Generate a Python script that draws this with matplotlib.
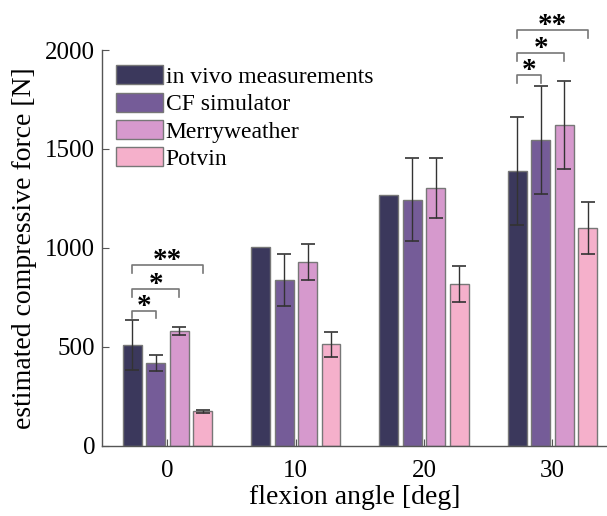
from matplotlib import pyplot as plt
import numpy as np

plt.rcParams['font.family'] = ['Liberation Serif', 'DejaVu Serif']

# flexion angles [deg]
angles = np.array([0, 10, 20, 30])
series = ["in vivo measurements", "CF simulator", "Merryweather", "Potvin"]
colors = ["#3b385c", "#755c98", "#d699cd", "#f5b0cb"]

# estimated compressive force [N]
invivo = [510, 1007, 1269, 1389]
cf_sim = [418, 840, 1244, 1545]
merry = [582, 928, 1303, 1621]
potvin = [175, 513, 818, 1103]
means = [invivo, cf_sim, merry, potvin]

# standard deviations (nan = no error bar)
invivo_sd = [125, np.nan, np.nan, 273]
cf_sim_sd = [40, 132, 208, 272]
merry_sd = [20, 90, 150, 224]
potvin_sd = [8, 65, 90, 131]
sds = [invivo_sd, cf_sim_sd, merry_sd, potvin_sd]

# significance: (group index, bar from, bar to, height [N], label)
sig = [(0, 0, 1, 684, "*"), (0, 0, 2, 793, "*"), (0, 0, 3, 914, "**"),
       (3, 0, 1, 1874, "*"), (3, 0, 2, 1986, "*"), (3, 0, 3, 2101, "**")]

width = 1.48
offsets = np.array([-1.5, -0.5, 0.5, 1.5]) * 1.83

fig = plt.figure(figsize=(6.07, 5.16), dpi=100)
ax = fig.add_axes([0.168, 0.1357, 0.832, 0.7674])

for k in range(4):
    x = angles + offsets[k]
    ax.bar(x, means[k], width=width, color=colors[k], edgecolor="#777777",
           linewidth=1.0, label=series[k], zorder=2)
    ax.errorbar(x, means[k], yerr=sds[k], fmt="none", ecolor="#333333",
                elinewidth=1.0, capsize=5, capthick=1.2, zorder=3)

for g, a, b, h, lab in sig:
    x1 = angles[g] + offsets[a]
    x2 = angles[g] + offsets[b]
    leg = 40
    ax.plot([x1, x1, x2, x2], [h - leg, h, h, h - leg], color="#777777",
            lw=1.2, clip_on=False, zorder=4)
    ax.annotate(lab, ((x1 + x2) / 2, h), xytext=(0, -2.5),
                textcoords="offset points", ha="center", va="baseline",
                fontsize=21, fontweight="bold", annotation_clip=False)

ax.set_xlim(-5.1, 34.25)
ax.set_ylim(0, 2000)
ax.set_xticks(angles)
ax.set_yticks([0, 500, 1000, 1500, 2000])
ax.tick_params(direction="in", labelsize=18, length=5, width=0.8,
               color="#555555")
ax.tick_params(axis="x", pad=10)
ax.tick_params(axis="y", pad=5)
for s in ["top", "right"]:
    ax.spines[s].set_visible(False)
for s in ["left", "bottom"]:
    ax.spines[s].set_color("#555555")
    ax.spines[s].set_linewidth(1.0)

ax.set_xlabel("flexion angle [deg]", fontsize=20, labelpad=2)
ax.set_ylabel("estimated compressive force [N]", fontsize=20, labelpad=6)
ax.legend(loc="upper left", bbox_to_anchor=(0.009, 0.985), frameon=False,
          fontsize=17, handlelength=2.0, handleheight=0.85, handletextpad=0.1,
          labelspacing=0.2, borderpad=0.4, borderaxespad=0.0)

fig.savefig("out.png", dpi=100)
